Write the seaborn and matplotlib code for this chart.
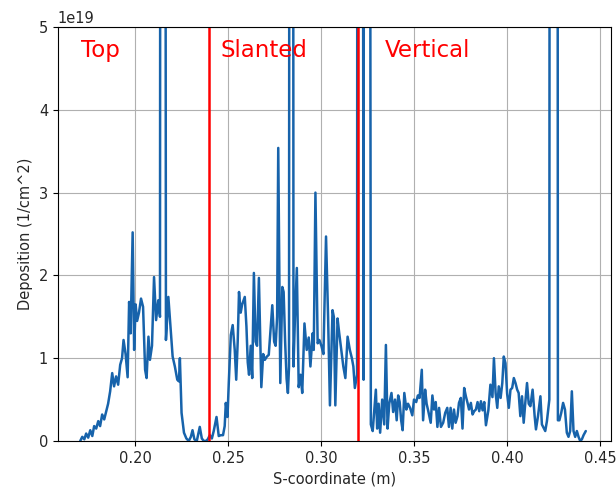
import numpy as np
import pandas as pd
import matplotlib
matplotlib.use("Agg")
import matplotlib.pyplot as plt
import seaborn as sns

# S-coordinate (m)
s_top = [0.1705, 0.1716, 0.1727, 0.1737, 0.1748, 0.1759, 0.1770, 0.1780, 0.1791, 0.1802,
         0.1812, 0.1823, 0.1834, 0.1845, 0.1855, 0.1866, 0.1877, 0.1887, 0.1898, 0.1909,
         0.1920, 0.1930, 0.1938, 0.1949, 0.1960, 0.1968, 0.1976, 0.1987, 0.1995, 0.2003,
         0.2011, 0.2021, 0.2032, 0.2043, 0.2054, 0.2062, 0.2072, 0.2080, 0.2091, 0.2102,
         0.2113, 0.2125, 0.2134, 0.2141, 0.2155, 0.2166, 0.2179, 0.2190, 0.2202, 0.2214,
         0.2227, 0.2236, 0.2241, 0.2250, 0.2263, 0.2276, 0.2289, 0.2300, 0.2309, 0.2319,
         0.2332, 0.2348, 0.2359, 0.2370, 0.2381, 0.2391]
v_top = [0.00, 0.05, 0.02, 0.09, 0.04, 0.13, 0.06, 0.18, 0.15, 0.24,
         0.18, 0.32, 0.26, 0.36, 0.45, 0.60, 0.82, 0.66, 0.78, 0.68,
         0.92, 1.00, 1.22, 1.05, 0.77, 1.68, 1.30, 2.52, 1.10, 1.65,
         1.45, 1.55, 1.72, 1.62, 0.86, 0.76, 1.26, 0.98, 1.15, 1.98,
         1.46, 1.70, 1.50, 30.0, 30.0, 1.22, 1.74, 1.40, 1.02, 0.90,
         0.74, 0.72, 1.00, 0.34, 0.10, 0.03, 0.00, 0.05, 0.13, 0.02,
         0.00, 0.17, 0.03, 0.00, 0.00, 0.02]

s_slanted = [0.2402, 0.2413, 0.2423, 0.2438, 0.2450, 0.2461, 0.2473, 0.2482, 0.2488, 0.2497,
             0.2504, 0.2515, 0.2525, 0.2536, 0.2544, 0.2552, 0.2559, 0.2568, 0.2576, 0.2590,
             0.2599, 0.2606, 0.2613, 0.2622, 0.2630, 0.2639, 0.2648, 0.2656, 0.2666, 0.2679,
             0.2689, 0.2698, 0.2709, 0.2719, 0.2727, 0.2738, 0.2748, 0.2756, 0.2764, 0.2770,
             0.2781, 0.2792, 0.2799, 0.2807, 0.2815, 0.2822, 0.2828, 0.2835, 0.2845, 0.2852,
             0.2860, 0.2870, 0.2880, 0.2890, 0.2899, 0.2911, 0.2923, 0.2934, 0.2943, 0.2955,
             0.2961, 0.2970, 0.2982, 0.2991, 0.3002, 0.3013, 0.3027, 0.3038, 0.3048, 0.3062,
             0.3069, 0.3077, 0.3089, 0.3098, 0.3109, 0.3120, 0.3131, 0.3143, 0.3155, 0.3166,
             0.3174, 0.3182, 0.3194, 0.3201]
v_slanted = [0.07, 0.03, 0.12, 0.29, 0.06, 0.07, 0.07, 0.18, 0.46, 0.29,
             0.70, 1.28, 1.40, 1.10, 0.74, 1.20, 1.80, 1.55, 1.65, 1.74,
             1.38, 0.95, 0.80, 1.15, 0.76, 2.03, 1.20, 1.15, 1.97, 0.65,
             1.05, 0.98, 1.02, 1.04, 1.30, 1.64, 1.20, 1.15, 1.50, 3.54,
             0.70, 1.86, 1.80, 1.20, 0.75, 0.58, 0.90, 30.0, 30.0, 0.90,
             1.50, 2.09, 0.65, 0.80, 0.58, 1.42, 1.10, 1.25, 0.90, 1.30,
             1.10, 3.00, 1.18, 1.22, 1.15, 1.05, 2.47, 1.50, 0.43, 1.58,
             1.50, 0.43, 1.48, 1.30, 1.10, 0.90, 0.76, 1.26, 1.10, 1.00,
             0.90, 0.64, 0.80, 40.0]

s_vertical = [0.3207, 0.3229, 0.3238, 0.3247, 0.3268, 0.3278, 0.3295, 0.3302, 0.3310, 0.3318,
              0.3329, 0.3340, 0.3349, 0.3358, 0.3367, 0.3379, 0.3388, 0.3398, 0.3407, 0.3415,
              0.3423, 0.3431, 0.3439, 0.3448, 0.3459, 0.3468, 0.3479, 0.3491, 0.3500, 0.3512,
              0.3521, 0.3530, 0.3542, 0.3549, 0.3560, 0.3568, 0.3577, 0.3590, 0.3599, 0.3608,
              0.3617, 0.3626, 0.3635, 0.3645, 0.3657, 0.3668, 0.3679, 0.3688, 0.3697, 0.3706,
              0.3715, 0.3724, 0.3734, 0.3742, 0.3752, 0.3761, 0.3770, 0.3779, 0.3788, 0.3796,
              0.3806, 0.3815, 0.3824, 0.3833, 0.3842, 0.3851, 0.3860, 0.3869, 0.3878, 0.3887,
              0.3900, 0.3911, 0.3922, 0.3930, 0.3939, 0.3948, 0.3956, 0.3966, 0.3975, 0.3983,
              0.3992, 0.4001, 0.4010, 0.4019, 0.4028, 0.4037, 0.4046, 0.4055, 0.4063, 0.4072,
              0.4081, 0.4090, 0.4099, 0.4108, 0.4117, 0.4126, 0.4138, 0.4149, 0.4156, 0.4167,
              0.4180, 0.4188, 0.4197, 0.4206, 0.4215, 0.4228, 0.4236, 0.4266, 0.4274, 0.4282,
              0.4292, 0.4302, 0.4312, 0.4322, 0.4331, 0.4340, 0.4349, 0.4358, 0.4367, 0.4376,
              0.4385, 0.4394, 0.4403, 0.4412, 0.4424]
v_vertical = [40.0, 0.74, 40.0, 40.0, 0.20, 0.12, 0.62, 0.15, 0.45, 0.10,
              0.50, 0.20, 1.16, 0.15, 0.45, 0.58, 0.35, 0.50, 0.25, 0.55,
              0.47, 0.25, 0.13, 0.58, 0.38, 0.45, 0.40, 0.31, 0.50, 0.47,
              0.55, 0.52, 0.86, 0.25, 0.62, 0.45, 0.36, 0.22, 0.55, 0.38,
              0.47, 0.17, 0.40, 0.17, 0.22, 0.34, 0.40, 0.17, 0.40, 0.15,
              0.38, 0.22, 0.30, 0.46, 0.52, 0.15, 0.64, 0.54, 0.46, 0.38,
              0.46, 0.32, 0.36, 0.38, 0.47, 0.36, 0.48, 0.37, 0.47, 0.19,
              0.37, 0.68, 0.53, 1.00, 0.58, 0.40, 0.66, 0.52, 0.70, 1.02,
              0.94, 0.57, 0.40, 0.62, 0.64, 0.76, 0.70, 0.62, 0.58, 0.30,
              0.54, 0.22, 0.47, 0.70, 0.45, 0.42, 0.62, 0.30, 0.14, 0.30,
              0.54, 0.20, 0.16, 0.12, 0.24, 0.50, 40.0, 40.0, 0.25, 0.25,
              0.34, 0.46, 0.38, 0.10, 0.05, 0.12, 0.60, 0.12, 0.05, 0.12,
              0.05, 0.00, 0.02, 0.07, 0.12]

boundaries = [0.24, 0.32]
region_labels = ["Top", "Slanted", "Vertical"]
label_x = [0.1711, 0.2461, 0.3345]
label_y = 4.72e19

s_all = s_top + s_slanted + s_vertical
v_all = [v * 1e19 for v in (v_top + v_slanted + v_vertical)]
df = pd.DataFrame({"s": s_all, "dep": v_all})

sns.set_theme(style="ticks", rc={
    "axes.grid": True,
    "grid.color": "#b0b0b0",
    "grid.linewidth": 0.8,
    "axes.edgecolor": "black",
    "axes.linewidth": 0.8,
})
plt.rcParams["font.family"] = ["DejaVu Sans"]

fig = plt.figure(figsize=(6.16, 4.92), dpi=100)
ax = fig.add_axes([0.094, 0.1037, 0.898, 0.8413])

sns.lineplot(data=df, x="s", y="dep", ax=ax, color="#1763ab", linewidth=1.8,
             estimator=None, sort=False)

for b in boundaries:
    ax.axvline(b, color="red", linewidth=1.8)

for lab, lx in zip(region_labels, label_x):
    ax.text(lx, label_y, lab, color="red", fontsize=16.5, va="center", ha="left")

ax.set_xlim(0.1585, 0.456)
ax.set_ylim(0, 5e19)
ax.set_xticks([0.20, 0.25, 0.30, 0.35, 0.40, 0.45])
ax.set_yticks([0, 1e19, 2e19, 3e19, 4e19, 5e19])
ax.tick_params(labelsize=10.5, length=3.5, width=0.8, color="black")
ax.yaxis.get_offset_text().set_fontsize(10.5)
ax.set_xlabel("S-coordinate (m)", fontsize=10.5)
ax.set_ylabel("Deposition (1/cm^2)", fontsize=10.5)
for sp in ax.spines.values():
    sp.set_visible(True)
    sp.set_color("black")

fig.savefig("out.png", dpi=100)
